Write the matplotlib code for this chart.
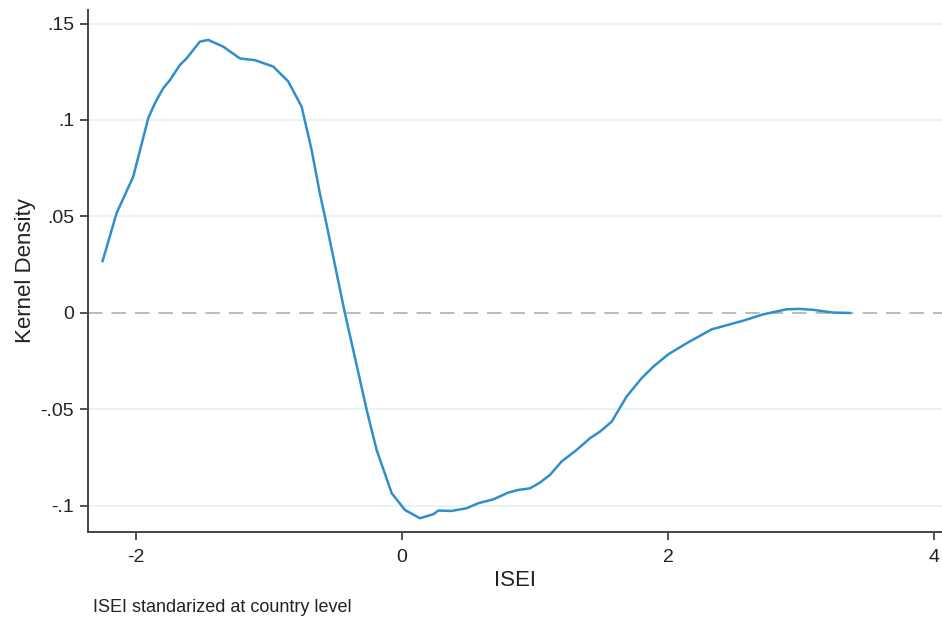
import matplotlib
matplotlib.use("Agg")
import matplotlib.pyplot as plt

plt.rcParams['font.family'] = ['Liberation Sans', 'DejaVu Sans']

# values
isei = [-2.25, -2.145, -2.02, -1.907, -1.857, -1.795, -1.744, -1.669, -1.619, -1.519,
        -1.456, -1.343, -1.218, -1.105, -0.968, -0.855, -0.754, -0.679, -0.617, -0.579,
        -0.504, -0.429, -0.347, -0.265, -0.19, -0.077, 0.023, 0.135, 0.236, 0.273,
        0.373, 0.486, 0.574, 0.687, 0.799, 0.875, 0.962, 1.038, 1.113, 1.2,
        1.313, 1.414, 1.489, 1.577, 1.689, 1.802, 1.89, 2.003, 2.14, 2.328,
        2.566, 2.717, 2.892, 2.992, 3.093, 3.243, 3.368]
density = [0.0269, 0.0517, 0.0706, 0.1009, 0.1087, 0.1164, 0.1207, 0.1285, 0.1319, 0.1406,
           0.1415, 0.138, 0.1319, 0.131, 0.1277, 0.120, 0.1069, 0.0845, 0.062, 0.05,
           0.025, 0.0, -0.025, -0.0502, -0.071, -0.0934, -0.1021, -0.1064, -0.1043, -0.1024,
           -0.1026, -0.1012, -0.0986, -0.0966, -0.0931, -0.0917, -0.0909, -0.0879, -0.0839, -0.077,
           -0.071, -0.0649, -0.0615, -0.0563, -0.0433, -0.0338, -0.0278, -0.0214, -0.0157, -0.0085,
           -0.004, -0.0007, 0.0019, 0.0021, 0.0016, 0.0002, 0.0]

y_ticks = [0.15, 0.1, 0.05, 0, -0.05, -0.1]
y_labels = ['.15', '.1', '.05', '0', '-.05', '-.1']
x_ticks = [-2, 0, 2, 4]

fig = plt.figure(figsize=(9.42, 6.17), dpi=100)
ax = fig.add_axes([0.0934, 0.1378, 0.9066, 0.846])

for yv in y_ticks:
    if yv != 0:
        ax.axhline(yv, color='#e3f1f4', linewidth=1.2, zorder=0)
ax.axhline(0, color='#b5b5b5', linewidth=1.3, linestyle=(0, (8, 5)), zorder=1)

ax.plot(isei, density, color='#2f8fcb', linewidth=1.8, zorder=2)

ax.set_xlim(-2.36, 4.06)
ax.set_ylim(-0.1135, 0.157)
ax.set_xticks(x_ticks)
ax.set_xticklabels([str(v) for v in x_ticks])
ax.set_yticks(y_ticks)
ax.set_yticklabels(y_labels)
ax.tick_params(axis='both', direction='out', length=6, width=1.3, color='#444444',
               labelsize=14, labelcolor='#222222')
ax.tick_params(axis='y', pad=4)
ax.tick_params(axis='x', pad=6)

for side in ['top', 'right']:
    ax.spines[side].set_visible(False)
for side in ['left', 'bottom']:
    ax.spines[side].set_color('#444444')
    ax.spines[side].set_linewidth(1.4)

ax.set_ylabel('Kernel Density', fontsize=16, color='#222222', labelpad=3)
ax.set_xlabel('ISEI', fontsize=16, color='#222222', labelpad=3)
fig.text(0.0987, 0.0075, 'ISEI standarized at country level', fontsize=13,
         color='#222222', va='baseline')

fig.savefig('out.png', dpi=100, facecolor='white')
